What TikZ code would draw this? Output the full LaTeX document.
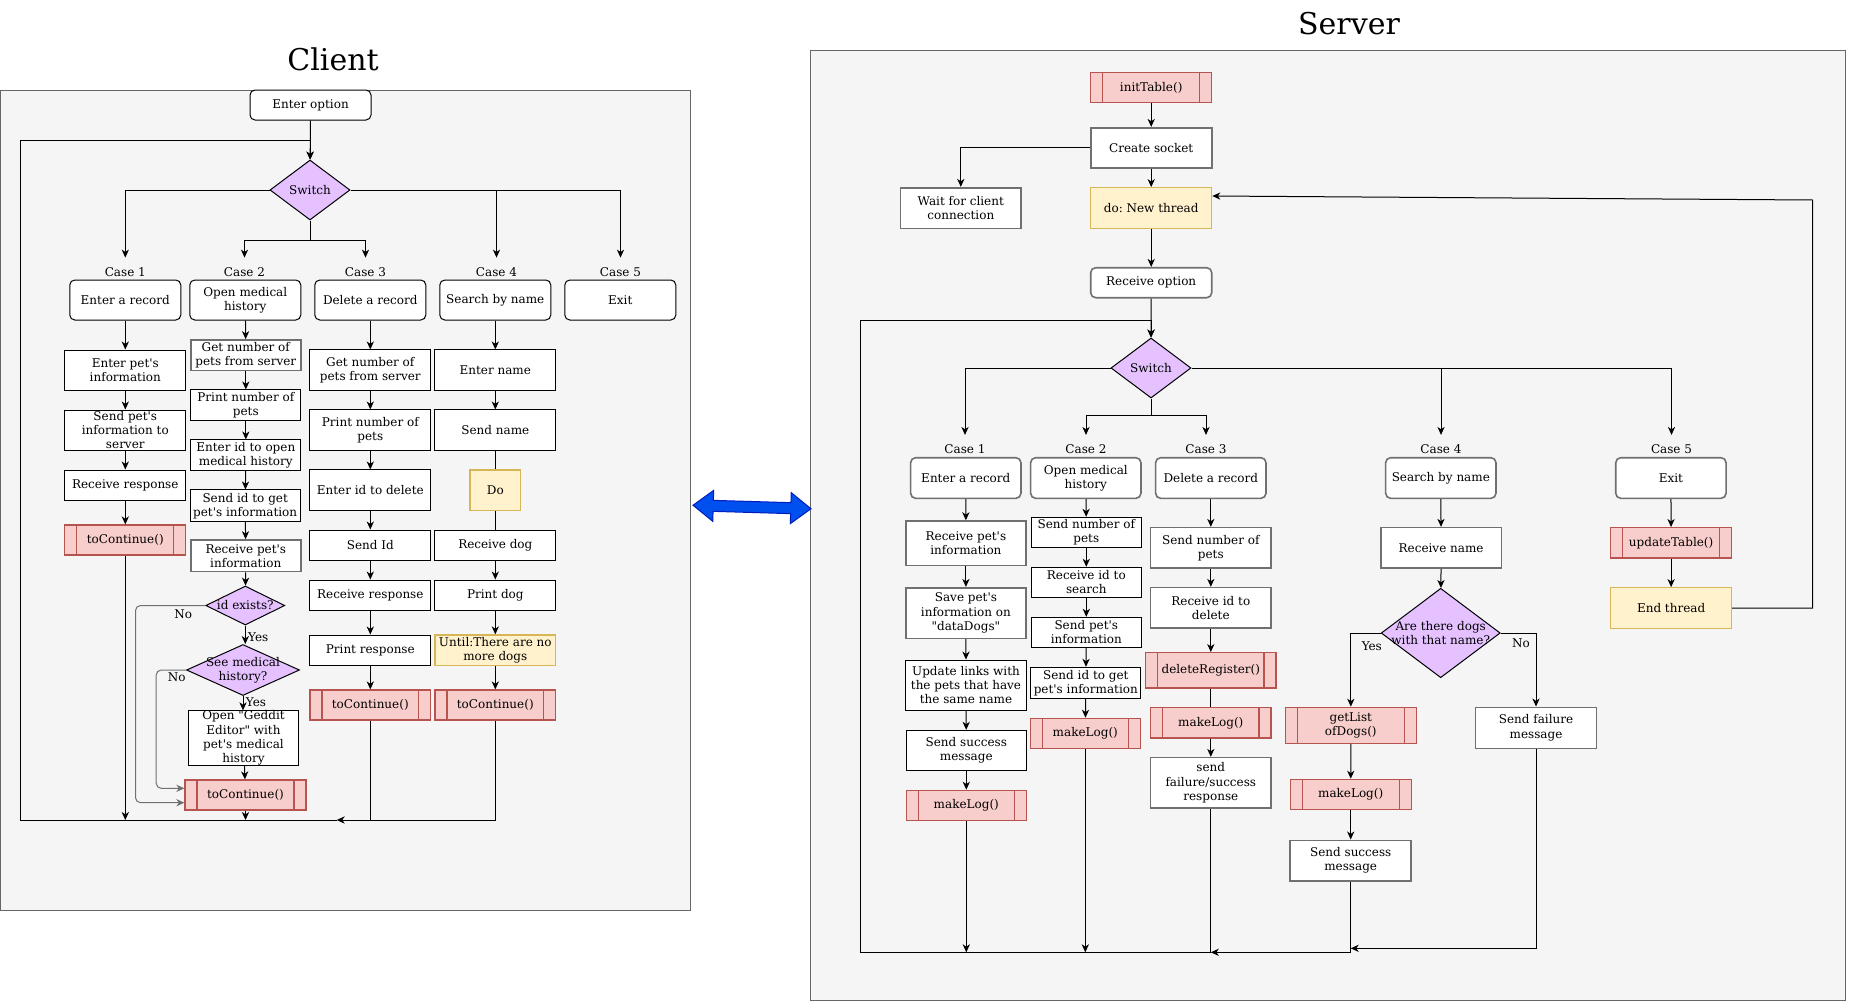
\documentclass[tikz,border=0pt]{standalone}
\usepackage{fontspec}
\setmainfont{DejaVu Serif}[Ligatures=TeXOff]
\usetikzlibrary{arrows.meta,shapes.geometric,shapes.arrows,calc}
\frenchspacing

\definecolor{panelfill}{HTML}{F5F5F5}
\definecolor{panelline}{HTML}{666666}
\definecolor{subfill}{HTML}{F8CECC}
\definecolor{subline}{HTML}{B85450}
\definecolor{yfill}{HTML}{FFF2CC}
\definecolor{yline}{HTML}{D6B656}
\definecolor{qfill}{HTML}{E5C2FF}
\definecolor{linkfill}{HTML}{0050EF}
\definecolor{linkline}{HTML}{001DBC}
\definecolor{edgegray}{HTML}{707070}

\tikzset{
  x=0.5pt, y=-0.5pt,
  every node/.style={font=\fontsize{6}{7.1}\selectfont, inner sep=0pt, align=center},
  sz/.style 2 args={minimum width=#1*0.5pt, minimum height=#2*0.5pt},
  pbox/.style={draw=black, fill=white, line width=0.5pt},
  gbox/.style={draw=edgegray, fill=white, line width=0.8pt},
  rbox/.style={pbox, rounded corners=2.5pt},
  grbox/.style={gbox, rounded corners=2.5pt},
  ybox/.style={draw=yline, fill=yfill, line width=0.6pt},
  subr/.style={draw=subline, fill=subfill, line width=0.6pt,
    path picture={
      \draw[subline, line width=0.6pt]
        ([xshift=6pt]path picture bounding box.north west) -- ([xshift=6pt]path picture bounding box.south west)
        ([xshift=-6pt]path picture bounding box.north east) -- ([xshift=-6pt]path picture bounding box.south east);
    }},
  dia/.style={shape=diamond, draw=black, fill=qfill, line width=0.5pt, inner sep=0pt},
  lbl/.style={minimum height=14pt},
  arr/.style={-{Stealth[length=4pt,width=3.6pt,inset=1.2pt]}, line width=0.5pt},
  ln/.style={line width=0.5pt},
  title/.style={font=\fontsize{15}{18}\selectfont}
}

\begin{document}
\begin{tikzpicture}
\useasboundingbox (0,0) rectangle (1851,1001);
\fill[white] (0,0) rectangle (1851,1001);

% ---------- panels ----------
\draw[panelline, fill=panelfill, line width=0.5pt] (0,90) rectangle (690,910);
\draw[panelline, fill=panelfill, line width=0.5pt] (810,50) rectangle (1845,1000);
\node[title] (tClient) at (333,59) {Client};
\node[title] (tServer) at (1349,24) {Server};

% ---------- client ----------
\node[rbox, sz={121}{30}] (cEnter) at (310.5,105) {Enter option};
\node[dia, sz={80}{60}, label={center:Switch}] (cSwitch) at (310,190) {};

\node[lbl] (cl1) at (125.3,272) {Case 1};
\node[lbl] (cl2) at (244.5,272) {Case 2};
\node[lbl] (cl3) at (365.5,272) {Case 3};
\node[lbl] (cl4) at (496.5,272) {Case 4};
\node[lbl] (cl5) at (620.5,272) {Case 5};

\node[rbox, sz={111}{40}] (c1) at (125.3,300) {Enter a record};
\node[rbox, sz={111}{40}] (c2) at (245.3,300) {Open medical\\history};
\node[rbox, sz={111}{40}] (c3) at (370.3,300) {Delete a record};
\node[rbox, sz={111}{40}] (c4) at (495.3,300) {Search by name};
\node[rbox, sz={111}{40}] (c5) at (620.3,300) {Exit};

% case 1
\node[pbox, sz={121}{40}] (a1) at (125.3,370) {Enter pet's\\information};
\node[pbox, sz={121}{40}] (a2) at (125.3,430) {Send pet's\\information to\\server};
\node[pbox, sz={121}{30}] (a3) at (125.3,485) {Receive response};
\node[subr, sz={121}{30}] (a4) at (125.3,540) {toContinue()};

% case 2
\node[gbox, sz={110}{30.7}] (b1) at (245.8,355.3) {Get number of\\pets from server};
\node[pbox, sz={110}{30.7}] (b2) at (245.8,405.3) {Print number of\\pets};
\node[pbox, sz={110}{30.7}] (b3) at (245.8,455.3) {Enter id to open\\medical history};
\node[pbox, sz={110}{31.7}] (b4) at (245.2,505.8) {Send id to get\\pet's information};
\node[gbox, sz={110}{31.7}] (b5) at (245.8,555.8) {Receive pet's\\information};
\node[dia, sz={79}{39}, label={center:id exists?}] (b6) at (245.3,605.5) {};
\node[dia, sz={113}{51}, label={center:See medical\\history?}] (b7) at (243,670) {};
\node[pbox, sz={110.4}{44.6}] (b8) at (243.5,738) {Open "Geddit\\Editor" with\\pet's medical\\history};
\node[subr, sz={121}{30}] (b9) at (245.5,795) {toContinue()};

% case 3
\node[pbox, sz={120.7}{40.7}] (d1) at (370.3,370.3) {Get number of\\pets from server};
\node[pbox, sz={120.7}{40.7}] (d2) at (370.3,430.3) {Print number of\\pets};
\node[pbox, sz={120.7}{40.7}] (d3) at (370.3,490.3) {Enter id to delete};
\node[pbox, sz={120.7}{30}] (d4) at (370.3,545) {Send Id};
\node[pbox, sz={120.7}{30}] (d5) at (370.3,595) {Receive response};
\node[pbox, sz={120.7}{30}] (d6) at (370.3,650) {Print response};
\node[subr, sz={120.7}{30}] (d7) at (370.3,705) {toContinue()};

% case 4
\node[pbox, sz={120.7}{40.7}] (e1) at (495.3,370.3) {Enter name};
\node[pbox, sz={120.7}{40.7}] (e2) at (495.3,430.3) {Send name};
\node[ybox, sz={50.7}{40.7}] (e3) at (495.3,490.3) {Do};
\node[pbox, sz={120.7}{30}] (e4) at (495.3,545) {Receive dog};
\node[pbox, sz={120.7}{30}] (e5) at (495.3,595) {Print dog};
\node[ybox, sz={120.7}{30.7}] (e6) at (495.3,650.3) {Until:There are no\\more dogs};
\node[subr, sz={120.7}{30}] (e7) at (495.3,705) {toContinue()};

% client loop corners
\coordinate (cBL) at (20.7,820);
\coordinate (cTL) at (20.7,140);
\coordinate (cMid) at (336.7,820);
\coordinate (cj) at (310,240);

% client connectors
\draw[arr] (cEnter) -- (cSwitch);
\draw[arr] (cSwitch.west) -| (cl1.north);
\draw[ln] (cSwitch.south) -- (cj);
\draw[arr] (cj) -| (cl2.north);
\draw[arr] (cj) -| (cl3.north);
\draw[arr] (cSwitch.east) -| (cl5.north);
\draw[arr] (cSwitch.east) -| (cl4.north);

\draw[arr] (c1) -- (a1);
\draw[arr] (a1) -- (a2);
\draw[arr] (a2) -- (a3);
\draw[arr] (a3) -- (a4);
\draw[arr] (a4.south) -- (a4.south |- cBL);

\draw[arr] (c2) -- (b1);
\draw[arr] (b1) -- (b2);
\draw[arr] (b2) -- (b3);
\draw[arr] (b3) -- (b4);
\draw[arr] (b4) -- (b5);
\draw[arr] (b5) -- (b6);
\draw[arr] (b6.south) -- (b7.north -| b6.south);
\draw[arr] (b7.south) -- (b8.north -| b7.south);
\draw[arr] (b8) -- (b9);
\draw[arr] (b9.south) -- (b9.south |- cBL);
\node (yes1) at (258.3,637.3) {Yes};
\node (yes2) at (256,702.3) {Yes};
\node (no1) at (183.3,614.3) {No};
\node (no2) at (176.7,677.3) {No};
\draw[arr, rounded corners=2.5pt, edgegray] (b6.west) -- ++(-69.8,0) |- ([yshift=-3.85pt]b9.west);
\draw[arr, rounded corners=2.5pt, edgegray] (b7.west) -- ++(-29.8,0) |- ([yshift=3.35pt]b9.west);

\draw[arr] (c3) -- (d1);
\draw[arr] (d1) -- (d2);
\draw[arr] (d2) -- (d3);
\draw[arr] (d3) -- (d4);
\draw[arr] (d4) -- (d5);
\draw[arr] (d5) -- (d6);
\draw[arr] (d6) -- (d7);
\draw[ln] (d7.south) -- (d7.south |- cBL);

\draw[arr] (c4) -- (e1);
\draw[arr] (e1) -- (e2);
\draw[ln] (e2) -- (e3);
\draw[ln] (e3) -- (e4);
\draw[arr] (e4) -- (e5);
\draw[arr] (e5) -- (e6);
\draw[arr] (e6) -- (e7);
\draw[arr] (e7.south) |- (cMid);
\draw[arr] (cMid) -- (cBL) -- (cTL) -| (cSwitch.north);

% ---------- link between client and server ----------
\node[double arrow, draw=linkline, fill=linkfill, line width=0.5pt,
      minimum height=59pt, minimum width=15pt, inner sep=2.5pt,
      double arrow head extend=5pt, double arrow tip angle=75,
      rotate=-1.7] (link) at (752,507) {};

% ---------- server ----------
\node[subr, sz={121}{30}] (sInit) at (1151.2,87.7) {initTable()};
\node[gbox, sz={121}{40}] (sSock) at (1151.2,147.7) {Create socket};
\node[gbox, sz={120.3}{40.6}] (sWait) at (960.8,208) {Wait for client\\connection};
\node[ybox, sz={121}{40.6}] (sNew) at (1151.2,208) {do: New thread};
\node[grbox, sz={121}{30}] (sRecv) at (1151.2,282.7) {Receive option};
\node[dia, sz={80}{60}, label={center:Switch}] (sSwitch) at (1151,368) {};

\node[lbl] (sl1) at (965,449.3) {Case 1};
\node[lbl] (sl2) at (1086,449.3) {Case 2};
\node[lbl] (sl3) at (1206,449.3) {Case 3};
\node[lbl] (sl4) at (1441,449.3) {Case 4};
\node[lbl] (sl5) at (1671.5,449.3) {Case 5};

\node[grbox, sz={110.3}{40.6}] (s1) at (965.8,478) {Enter a record};
\node[grbox, sz={110.3}{40.6}] (s2) at (1085.8,478) {Open medical\\history};
\node[grbox, sz={110.3}{40.6}] (s3) at (1210.8,478) {Delete a record};
\node[grbox, sz={110.3}{40.6}] (s4) at (1440.8,478) {Search by name};
\node[grbox, sz={110.3}{40.6}] (s5) at (1670.9,478) {Exit};

% server case 1
\node[gbox, sz={120.3}{44.3}] (p1) at (965.9,543.2) {Receive pet's\\information};
\node[gbox, sz={120.3}{50.6}] (p2) at (965.9,613) {Save pet's\\information on\\"dataDogs"};
\node[pbox, sz={120.3}{50.3}] (p3) at (966,685.2) {Update links with\\the pets that have\\the same name};
\node[pbox, sz={120}{40}] (p4) at (966.3,750.3) {Send success\\message};
\node[subr, sz={120}{30}] (p5) at (966.3,805.3) {makeLog()};

% server case 2
\node[pbox, sz={110}{30}] (q1) at (1086.3,532.3) {Send number of\\pets};
\node[pbox, sz={110}{30}] (q2) at (1086.3,582.3) {Receive id to\\search};
\node[pbox, sz={110}{30}] (q3) at (1086.3,632.3) {Send pet's\\information};
\node[pbox, sz={110.3}{31}] (q4) at (1085.8,682.8) {Send id to get\\pet's information};
\node[subr, sz={110}{30}] (q5) at (1085.3,733.3) {makeLog()};

% server case 3
\node[gbox, sz={120.3}{40.3}] (r1) at (1210.8,547.8) {Send number of\\pets};
\node[gbox, sz={120.3}{40.3}] (r2) at (1210.8,607.8) {Receive id to\\delete};
\node[subr, sz={130.3}{35.3}] (r3) at (1210.8,670.3) {deleteRegister()};
\node[subr, sz={120.3}{30.3}] (r4) at (1210.8,722.8) {makeLog()};
\node[gbox, sz={120.3}{50.3}] (r5) at (1210.8,782.8) {send\\failure/success\\response};

% server case 4
\node[gbox, sz={120.5}{40.3}] (t1) at (1441.1,547.8) {Receive name};
\node[dia, sz={119}{89.4}, label={center:Are there dogs\\with that name?}] (t2) at (1440.7,633) {};
\node[subr, sz={130.7}{36}] (t3) at (1350.8,725.3) {getList\\ofDogs()};
\node[subr, sz={121}{30}] (t4) at (1350.7,794.3) {makeLog()};
\node[gbox, sz={121}{40.4}] (t5) at (1350.7,860.5) {Send success\\message};
\node[gbox, sz={121}{41}] (t6) at (1536,727.8) {Send failure\\message};
\node (yes3) at (1371.8,646.7) {Yes};
\node (no3) at (1521,643.3) {No};

% server case 5
\node[subr, sz={121}{30.3}] (u1) at (1671.1,542.8) {updateTable()};
\node[ybox, sz={121}{40.6}] (u2) at (1671.1,608) {End thread};

% server loop corners
\coordinate (sBL) at (860.7,952.3);
\coordinate (sTL) at (860.7,320.7);
\coordinate (sj) at (1151,415.5);
\coordinate (sFail) at (1350.7,948.3);
\coordinate (sR2) at (1812.5,200);

% server connectors
\draw[arr] (sInit) -- (sSock);
\draw[arr] (sSock.west) -| (sWait.north);
\draw[arr] (sSock) -- (sNew);
\draw[arr] (sNew) -- (sRecv);
\draw[arr] (sRecv) -- (sSwitch);

\draw[arr] (sSwitch.west) -| (sl1.north);
\draw[ln] (sSwitch.south) -- (sj);
\draw[arr] (sj) -| (sl2.north);
\draw[arr] (sj) -| (sl3.north);
\draw[arr] (sSwitch.east) -| (sl5.north);
\draw[arr] (sSwitch.east) -| (sl4.north);

\draw[arr] (s1) -- (p1);
\draw[arr] (p1) -- (p2);
\draw[arr] (p2) -- (p3);
\draw[arr] (p3) -- (p4);
\draw[arr] (p4) -- (p5);
\draw[arr] (p5.south) -- (p5.south |- sBL);

\draw[arr] (s2) -- (q1);
\draw[arr] (q1) -- (q2);
\draw[arr] (q2) -- (q3);
\draw[arr] (q3) -- (q4);
\draw[arr] (q4) -- (q5);
\draw[arr] (q5.south) -- (q5.south |- sBL);

\draw[arr] (s3) -- (r1);
\draw[arr] (r1) -- (r2);
\draw[arr] (r2) -- (r3);
\draw[ln] (r3) -- (r4);
\draw[arr] (r4) -- (r5);
\draw[ln] (r5.south) -- (r5.south |- sBL);

\draw[arr] (s4) -- (t1);
\draw[arr] (t1) -- (t2);
\draw[arr] (t2.west) -| (t3.north);
\draw[arr] (t2.east) -| (t6.north);
\draw[arr] (t3) -- (t4);
\draw[arr] (t4) -- (t5);
\draw[arr] (t5.south) |- (r5.south |- sBL);
\draw[arr] (t6.south) |- (sFail);

\draw[arr] (s5) -- (u1);
\draw[arr] (u1) -- (u2);
\draw[arr] (u2.east) -| (sR2) -- ([yshift=6pt]sNew.east);

\draw[arr] (r5.south |- sBL) -- (sBL) -- (sTL) -| (sSwitch.north);
\end{tikzpicture}
\end{document}
